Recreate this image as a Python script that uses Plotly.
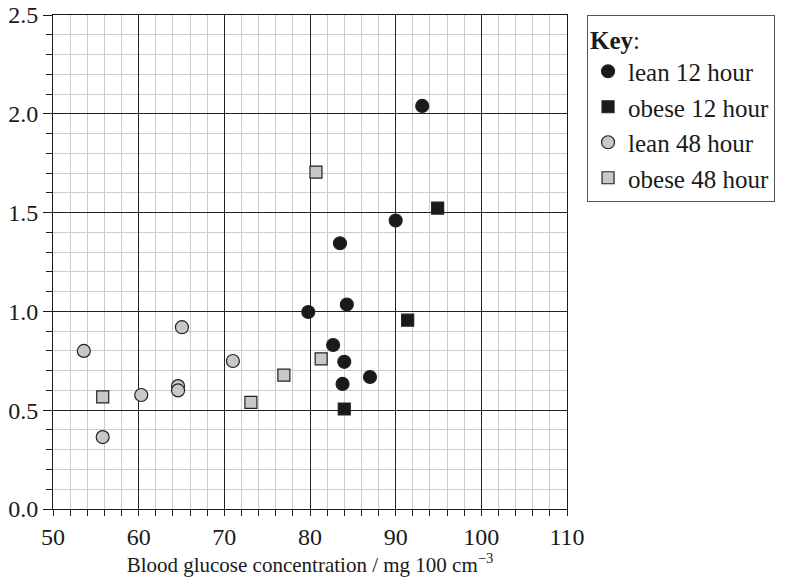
import plotly.graph_objects as go

lean12_x = [93.1, 90.0, 83.5, 84.3, 79.8, 82.7, 84.0, 83.8, 87.0]
lean12_y = [2.04, 1.46, 1.345, 1.035, 0.997, 0.83, 0.745, 0.633, 0.668]
obese12_x = [94.9, 91.4, 84.0]
obese12_y = [1.523, 0.956, 0.506]
lean48_x = [53.6, 55.8, 60.3, 64.6, 64.6, 65.05, 71.0]
lean48_y = [0.80, 0.364, 0.577, 0.622, 0.60, 0.92, 0.749]
obese48_x = [80.7, 55.8, 73.1, 76.95, 81.3]
obese48_y = [1.705, 0.567, 0.54, 0.678, 0.76]

FONT = "Liberation Serif"
fig = go.Figure()

def add(name, x, y, symbol, fill, size):
    fig.add_trace(go.Scatter(
        x=x, y=y, mode="markers", name=name, legendgroup=name,
        marker=dict(symbol=symbol, color=fill, size=size,
                    line=dict(color="#222222", width=1.2)),
    ))

add("lean 12 hour", lean12_x, lean12_y, "circle", "#1a1a1a", 13)
add("obese 12 hour", obese12_x, obese12_y, "square", "#1a1a1a", 12)
add("lean 48 hour", lean48_x, lean48_y, "circle", "#c8c8c8", 13)
add("obese 48 hour", obese48_x, obese48_y, "square", "#c8c8c8", 12)

fig.update_layout(
    width=800, height=584,
    margin=dict(l=53, r=233, t=15, b=75),
    plot_bgcolor="white", paper_bgcolor="white",
    font=dict(family=FONT, size=21, color="#1a1a1a"),
    showlegend=True,
    legend=dict(
        title=dict(text="<b>Key</b>:", font=dict(family=FONT, size=25)),
        x=1.039, xanchor="left", y=1.0, yanchor="top",
        bordercolor="#555555", borderwidth=1,
        font=dict(family=FONT, size=25),
        tracegroupgap=0,
        itemwidth=30,
    ),
    xaxis=dict(
        range=[50, 110], dtick=10, tick0=50, automargin=False,
        showgrid=True, gridcolor="#222222", gridwidth=1,
        showline=True, linecolor="#1a1a1a", linewidth=1, mirror=True,
        ticks="outside", ticklen=6, tickcolor="#1a1a1a",
        zeroline=False,
        minor=dict(dtick=2, showgrid=True, gridcolor="#cccccc", gridwidth=1,
                   ticks="outside", ticklen=6, tickcolor="#1a1a1a"),
        title=dict(text="Blood glucose concentration / mg 100 cm<sup>−3</sup>",
                   font=dict(family=FONT, size=21), standoff=4),
        tickfont=dict(family=FONT, size=24),
    ),
    yaxis=dict(
        range=[0, 2.5], dtick=0.5, tick0=0, tickformat=".1f", automargin=False,
        showgrid=True, gridcolor="#222222", gridwidth=1,
        showline=True, linecolor="#1a1a1a", linewidth=1, mirror=True,
        ticks="outside", ticklen=9, tickcolor="#1a1a1a",
        zeroline=False,
        minor=dict(dtick=0.1, showgrid=True, gridcolor="#cccccc", gridwidth=1,
                   ticks="outside", ticklen=6, tickcolor="#1a1a1a"),
        tickfont=dict(family=FONT, size=24),
    ),
)

fig.write_html("out.html")
